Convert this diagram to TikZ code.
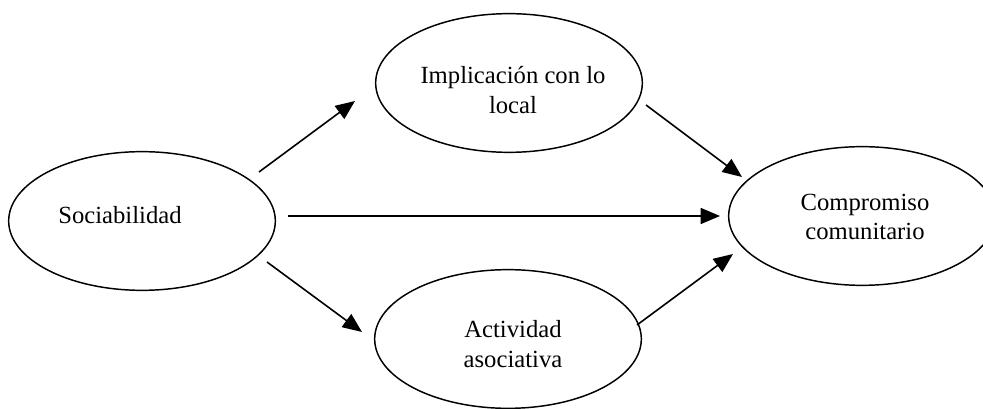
\documentclass[tikz,border=0pt]{standalone}
\usepackage{fontspec}
\setmainfont{Liberation Serif}
\usetikzlibrary{shapes.geometric,arrows.meta}
\begin{document}
\begin{tikzpicture}[x=0.75pt,y=-0.75pt,
  oval/.style={draw,ellipse,line width=1.1pt,minimum width=200pt,minimum height=104pt,inner sep=0pt},
  lbl/.style={font=\fontsize{18.5}{22}\selectfont,align=center,inner sep=0pt},
  arr/.style={line width=1.2pt,-{Triangle[length=14.5pt,width=12pt]}}]
\useasboundingbox (0,0) rectangle (983,409);
\node[oval] (soc) at (142,221) {};
\node[oval] (imp) at (509,83) {};
\node[oval] (act) at (508,339) {};
\node[oval] (com) at (862,216) {};
\node[lbl] (tsoc) at (120,215) {Sociabilidad};
\node[lbl] (timp) at (513,90) {Implicación con lo\\local};
\node[lbl] (tact) at (513,344) {Actividad\\asociativa};
\node[lbl] (tcom) at (865,217) {Compromiso\\comunitario};
\coordinate (a1s) at (259,172); \coordinate (a1e) at (355,101);
\coordinate (a2s) at (646,105); \coordinate (a2e) at (742,177);
\coordinate (a3s) at (288,216); \coordinate (a3e) at (720,216);
\coordinate (a4s) at (267,262); \coordinate (a4e) at (362,332);
\coordinate (a5s) at (637,325); \coordinate (a5e) at (733,254);
\draw[arr] (a1s) -- (a1e);
\draw[arr] (a2s) -- (a2e);
\draw[arr] (a3s) -- (a3e);
\draw[arr] (a4s) -- (a4e);
\draw[arr] (a5s) -- (a5e);
\end{tikzpicture}
\end{document}
